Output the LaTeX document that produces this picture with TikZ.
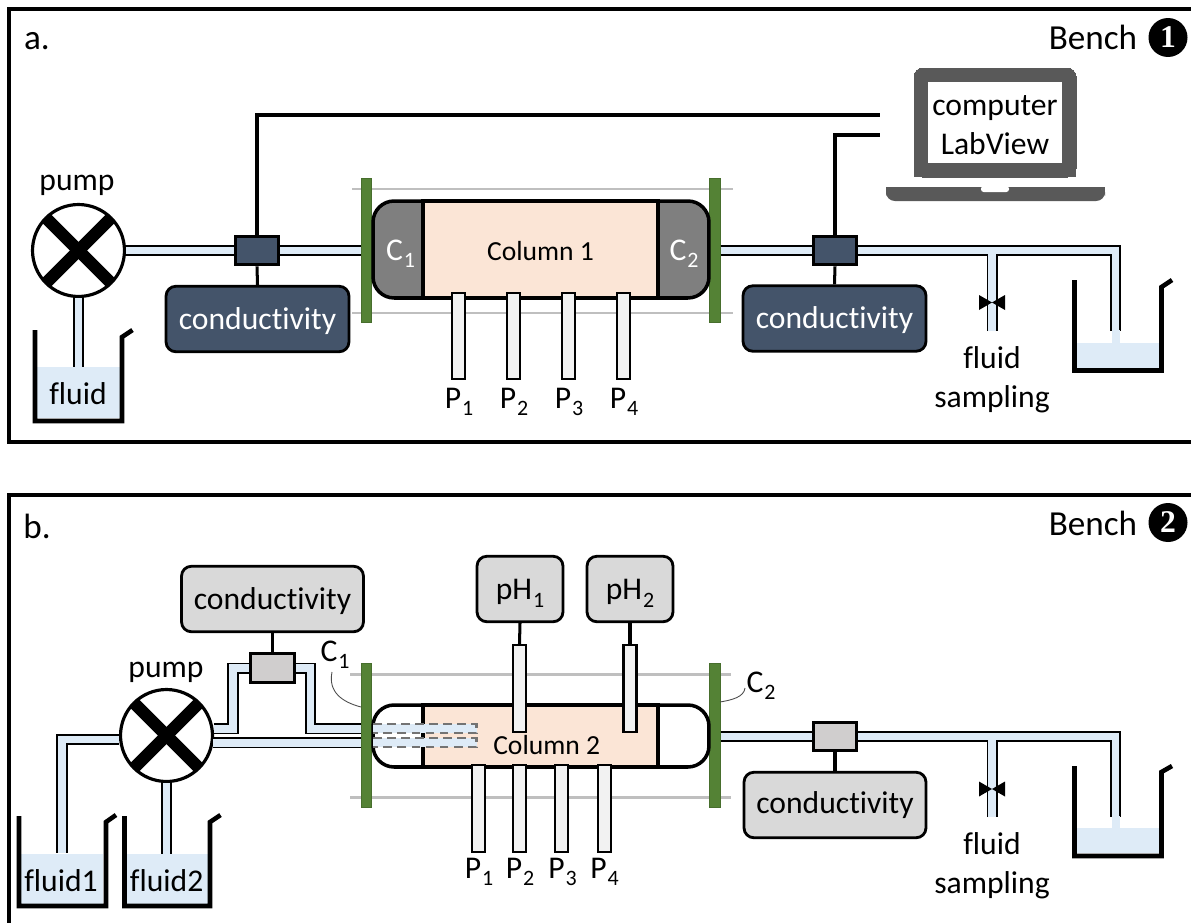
\documentclass[tikz,border=0pt]{standalone}
\usepackage{fontspec}
\setmainfont[Ligatures=NoCommon]{Carlito}
\newfontfamily\benchfont{Liberation Serif}
\definecolor{pipeblue}{HTML}{DEEBF7}
\definecolor{slateblue}{HTML}{44546A}
\definecolor{platecolor}{HTML}{548235}
\definecolor{peach}{HTML}{FBE5D6}
\definecolor{capgray}{HTML}{7F7F7F}
\definecolor{rodgray}{HTML}{BFBFBF}
\definecolor{boxgray}{HTML}{D9D9D9}
\definecolor{sensgray}{HTML}{D0CECE}
\definecolor{laptopgray}{HTML}{595959}
\newcommand{\idx}[1]{\kern0.5pt\raisebox{-4pt}{\fontsize{12.5}{13}\selectfont #1}}
\begin{document}
\begin{tikzpicture}[x=0.02cm,y=-0.02cm,
  every node/.style={font=\fontsize{18}{22}\selectfont,inner sep=0pt},
  frameline/.style={line width=1.72pt},
  pipe/.style={draw=black,line width=1pt,double=pipeblue,double distance=0.15cm},
  wire/.style={line width=1.72pt},
  leader/.style={draw=black!70,line width=0.5pt},
  pumpwheel/.style={circle,draw,fill=white,line width=1.8pt,minimum size=1.84cm,
    path picture={
      \draw[line width=7pt] (path picture bounding box.north west) -- (path picture bounding box.south east);
      \draw[line width=7pt] (path picture bounding box.south west) -- (path picture bounding box.north east);}},
  sensordark/.style={draw,fill=slateblue,line width=1.8pt,minimum width=0.87cm,minimum height=0.57cm},
  sensorlight/.style={draw,fill=sensgray,line width=1.8pt,minimum width=0.87cm,minimum height=0.57cm},
  readerdark/.style={draw,fill=slateblue,text=white,rounded corners=5.6pt,line width=1.6pt,minimum width=3.66cm,minimum height=1.31cm,text height=11.4pt,text depth=0pt},
  readerlight/.style={draw,fill=boxgray,rounded corners=5.6pt,line width=1.6pt,minimum width=3.64cm,minimum height=1.31cm,text height=11.4pt,text depth=0pt},
  phbox/.style={draw,fill=boxgray,rounded corners=5.6pt,line width=1.6pt,minimum width=1.72cm,minimum height=1.31cm,text height=12.5pt,text depth=0pt},
  plate/.style={draw=platecolor!85!black,fill=platecolor,line width=0.5pt,minimum width=0.21cm,minimum height=2.88cm},
  rod/.style={rodgray,line width=1.7pt},
  column/.style={draw,line width=2pt,rounded corners=12pt,minimum width=6.72cm},
  probe/.style={draw,fill=black!5,line width=1.2pt,minimum width=0.26cm},
  beaker/.style={line width=2.6pt},
  water/.style={fill=pipeblue,minimum width=1.66cm},
  columntext/.style={font=\fontsize{15.7}{18}\selectfont},
  tagtext/.style={font=\fontsize{20}{24}\selectfont},
  inlet/.style={draw=black!55,fill=pipeblue,dash pattern=on 5pt off 3pt,line width=1.2pt},
  benchmark/.style={circle,fill=black,text=white,minimum size=0.78cm,font=\benchfont\fontsize{18}{20}\selectfont\bfseries}
]
\useasboundingbox (0,0) rectangle (1191,923);
\draw[frameline] (1191,9) -- (9,9) -- (9,442) -- (1191,442);
\draw[frameline] (1191,495) -- (9,495) -- (9,923);

\begin{scope}
\node[tagtext] (tagA) at (37,41) {a.};
\node[anchor=base,tagtext] (benchA) at (1093,49) {Bench};
\node[benchmark] (markA) at (1168,37.5) {1};
\draw[rod] (352,189) -- (733,189);
\draw[rod] (352,313) -- (733,313);
\node[pumpwheel] (pumpA) at (78.5,250.5) {};
\node[anchor=base] (pumpAlab) at (77,190) {pump};
\node[water,minimum height=1.02cm] (waterA) at (78.5,392.5) {};
\node (fluidA) at (78,394) {fluid};
\draw[beaker] (35,330) -- (35,421) -- (122,421) -- (122,337) -- (132.5,330);
\draw[pipe] (pumpA.south) -- (waterA.north);
\node[sensordark] (sensA) at (257,250.5) {};
\node[readerdark,text height=12.4pt] (condA) at (257.5,319) {conductivity};
\node[plate] (plateAL) at (366.5,250.5) {};
\node[plate] (plateAR) at (715,250.5) {};
\node[column,fill=capgray,minimum height=1.94cm] (colA) at (541,249.5) {};
\draw[line width=2pt,fill=peach] (423,201) rectangle (658,298);
\node[columntext] (colAtext) at (540.5,251) {Column 1};
\node[anchor=base,text=white] (capAL) at (400.5,260) {C\idx{1}};
\node[anchor=base,text=white] (capAR) at (684,260) {C\idx{2}};
\node[probe,minimum height=1.72cm] (pA1) at (458.5,336) {};
\node[probe,minimum height=1.72cm] (pA2) at (513.5,336) {};
\node[probe,minimum height=1.72cm] (pA3) at (568.5,336) {};
\node[probe,minimum height=1.72cm] (pA4) at (623.5,336) {};
\node[anchor=base] (pA1lab) at (459,408) {P\idx{1}};
\node[anchor=base] (pA2lab) at (514,408) {P\idx{2}};
\node[anchor=base] (pA3lab) at (569,408) {P\idx{3}};
\node[anchor=base] (pA4lab) at (624,408) {P\idx{4}};
\node[sensordark] (sensAR) at (835,250.5) {};
\node[readerdark] (condAR) at (834.5,318.5) {conductivity};
\coordinate (wireA) at (880,115);
\coordinate (wireAR) at (880,135);
\coordinate (drainA) at (1115.5,331);
\coordinate (sampleA) at (992,331);
\draw[wire] (sensA.north) |- (wireA);
\draw[wire] (sensAR.north) |- (wireAR);
\draw[wire] (sensA.south) -- (condA.north);
\draw[wire] (sensAR.south) -- (condAR.north);
\draw[pipe] (pumpA.east) -- (sensA.west);
\draw[pipe] (sensA.east) -- (plateAL.west |- sensA.east);
\draw[pipe] (plateAR.east |- sensAR.west) -- (sensAR.west);
\draw[pipe] (sensAR.east) -| (drainA) (sampleA) -- (sampleA |- sensAR.east);
\fill[pipeblue] (1111.5,330) rectangle (1119.5,343);
\fill[pipeblue] (1076.7,343) rectangle (1159.5,368);
\draw[beaker] (1074.5,280) -- (1074.5,370.5) -- (1161.5,370.5) -- (1161.5,287) -- (1172,280);
\fill (979,295) -- (1005,310) -- (1005,295) -- (979,310) -- cycle;
\node[anchor=base] (sampA) at (992,368) {fluid};
\node[anchor=base] (sampAb) at (992,407) {sampling};
\draw[laptopgray,fill=laptopgray,line width=0pt,rounded corners=5pt] (914,177) -- (914,68) -- (1076,68) -- (1076,177) -- cycle;
\fill[laptopgray] (914,160) rectangle (1076,177);
\fill[white] (928,82) rectangle (1062,163);
\fill[laptopgray,rounded corners=5pt] (886,187) -- (886,201) -- (1105,201) -- (1105,187) -- cycle;
\fill[laptopgray] (886,187) rectangle (1105,194);
\fill[white,rounded corners=1.5pt] (981,186) -- (981,192) -- (1009,192) -- (1009,186) -- cycle;
\node[anchor=base] (compA) at (995,115) {computer};
\node[anchor=base] (compAb) at (995,154) {LabView};
\end{scope}

\begin{scope}
\node[tagtext] (tagB) at (37,526) {b.};
\node[anchor=base,tagtext] (benchB) at (1093,535) {Bench};
\node[benchmark] (markB) at (1168,522.5) {2};
\draw[rod] (350,674) -- (731,674);
\draw[rod] (350,797) -- (731,797);
\node[pumpwheel] (pumpB) at (166.5,735.5) {};
\node[anchor=base] (pumpBlab) at (166,677) {pump};
\node[water,minimum height=1.0cm] (waterB1) at (62,879) {};
\node[water,minimum height=1.0cm] (waterB2) at (167.5,879) {};
\node (fluidB1) at (61,881) {fluid1};
\node (fluidB2) at (166.7,881) {fluid2};
\draw[beaker] (19,816) -- (19,906) -- (106,906) -- (106,822) -- (116,815);
\draw[beaker] (124.5,816) -- (124.5,906) -- (210,906) -- (210,822) -- (220.5,815);
\node[sensorlight] (sensB) at (272.5,668) {};
\node[readerlight] (condB) at (272.5,599) {conductivity};
\node[phbox] (phB1) at (520,589) {pH\idx{1}};
\node[phbox] (phB2) at (630,589) {pH\idx{2}};
\node[plate] (plateBL) at (366.5,735.5) {};
\node[plate] (plateBR) at (715,735.5) {};
\node[column,fill=white,minimum height=1.24cm] (colB) at (541,736) {};
\draw[line width=2pt,fill=peach] (423,705) rectangle (658,767);
\node[columntext] (colBtext) at (546.7,745) {Column 2};
\draw[inlet] (373,724) -- (476.5,724) -- (476.5,733) -- (373,733);
\draw[inlet] (373,738) -- (476.5,738) -- (476.5,747) -- (373,747);
\node[probe,minimum height=1.74cm] (tB1) at (519.5,688.5) {};
\node[probe,minimum height=1.74cm] (tB2) at (630,688.5) {};
\node[probe,minimum height=1.74cm] (pB1) at (478.5,808.5) {};
\node[probe,minimum height=1.74cm] (pB2) at (519.5,808.5) {};
\node[probe,minimum height=1.74cm] (pB3) at (561.8,808.5) {};
\node[probe,minimum height=1.74cm] (pB4) at (604.2,808.5) {};
\node[anchor=base] (pB1lab) at (479,878) {P\idx{1}};
\node[anchor=base] (pB2lab) at (520,878) {P\idx{2}};
\node[anchor=base] (pB3lab) at (562.5,878) {P\idx{3}};
\node[anchor=base] (pB4lab) at (604.5,878) {P\idx{4}};
\draw[wire] (phB1.south) -- (tB1.north);
\draw[wire] (phB2.south) -- (tB2.north);
\draw[wire] (condB.south) -- (sensB.north);
\node[sensorlight] (sensBR) at (835,736.5) {};
\node[readerlight,text height=9.6pt] (condBR) at (835,805) {conductivity};
\draw[wire] (sensBR.south) -- (condBR.north);
\coordinate (drainB) at (1115.5,817);
\coordinate (sampleB) at (992,817);
\coordinate (tapB) at (233,668);
\coordinate (tapBR) at (310.5,668);
\coordinate (inletB) at (62,853);
\draw[pipe] (pumpB.185) -| (inletB);
\draw[pipe] (pumpB.south) -- (waterB2.north -| pumpB.south);
\draw[pipe] (pumpB.8) -| (tapB) -- (sensB.west);
\draw[pipe] (sensB.east) -- (tapBR) |- (plateBL.west |- pumpB.8);
\draw[pipe] (pumpB.-9) -- (plateBL.west |- pumpB.-9);
\draw[pipe] (plateBR.east |- sensBR.west) -- (sensBR.west);
\draw[pipe] (sensBR.east) -| (drainB) (sampleB) -- (sampleB |- sensBR.east);
\fill[pipeblue] (1111.5,816) rectangle (1119.5,828);
\fill[pipeblue] (1076.7,828) rectangle (1159.5,853);
\draw[beaker] (1074.5,766) -- (1074.5,856) -- (1161.5,856) -- (1161.5,772) -- (1172,766);
\fill (979,781.5) -- (1005,796.5) -- (1005,781.5) -- (979,796.5) -- cycle;
\node[anchor=base] (sampB) at (992,854) {fluid};
\node[anchor=base] (sampBb) at (992,893) {sampling};
\node[anchor=base] (capBL) at (335,661) {C\idx{1}};
\node[anchor=base] (capBR) at (761,692) {C\idx{2}};
\coordinate (leadBL) at (361,707);
\coordinate (leadBR) at (720,702);
\draw[leader] (332,672) .. controls (328,692) and (342,702) .. (leadBL);
\draw[leader] (745,688) .. controls (744,697) and (732,700) .. (leadBR);
\end{scope}
\end{tikzpicture}
\end{document}
